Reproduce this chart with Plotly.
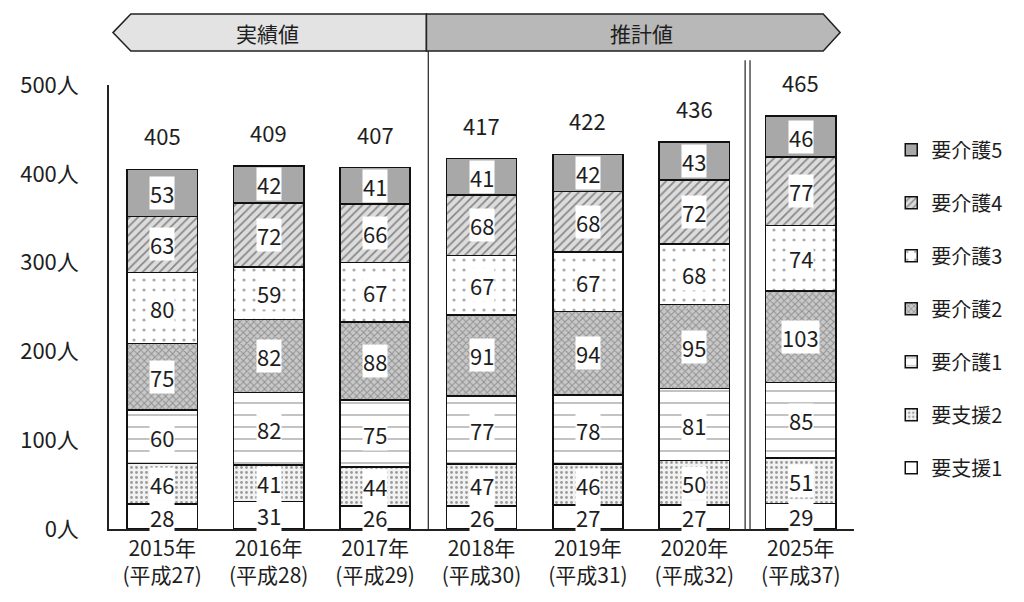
import plotly.graph_objects as go

years = ["2015年<br>(平成27)", "2016年<br>(平成28)", "2017年<br>(平成29)", "2018年<br>(平成30)",
         "2019年<br>(平成31)", "2020年<br>(平成32)", "2025年<br>(平成37)"]

shien1 = [28, 31, 26, 26, 27, 27, 29]
shien2 = [46, 41, 44, 47, 46, 50, 51]
kaigo1 = [60, 82, 75, 77, 78, 81, 85]
kaigo2 = [75, 82, 88, 91, 94, 95, 103]
kaigo3 = [80, 59, 67, 67, 67, 68, 74]
kaigo4 = [63, 72, 66, 68, 68, 72, 77]
kaigo5 = [53, 42, 41, 41, 42, 43, 46]
totals = [405, 409, 407, 417, 422, 436, 465]

names = ["要支援1", "要支援2", "要介護1", "要介護2", "要介護3", "要介護4", "要介護5"]
series = [shien1, shien2, kaigo1, kaigo2, kaigo3, kaigo4, kaigo5]

FONT = "Noto Sans CJK JP, Noto Sans, sans-serif"
INK = "#1e1e1e"

# pattern styles per level (bottom -> top)
styles = [
    dict(color="white", pattern=dict(shape="")),
    dict(color="#f2f2f2", pattern=dict(shape=".", fgcolor="#444", bgcolor="#f2f2f2", size=5, solidity=0.25)),
    dict(color="white", pattern=dict(shape="-", fgcolor="#333", bgcolor="white", size=12, solidity=0.1)),
    dict(color="#bdbdbd", pattern=dict(shape="x", fgcolor="#555", bgcolor="#c8c8c8", size=5, solidity=0.35)),
    dict(color="white", pattern=dict(shape=".", fgcolor="#555", bgcolor="white", size=10, solidity=0.08)),
    dict(color="#d9d9d9", pattern=dict(shape="/", fgcolor="#333", bgcolor="#dcdcdc", size=6, solidity=0.3)),
    dict(color="#a8a8a8", pattern=dict(shape="")),
]

fig = go.Figure()
for i, (nm, vals) in enumerate(zip(names, series)):
    st = styles[i]
    fig.add_trace(go.Bar(
        x=years, y=vals, name=nm, legendgroup=nm, legendrank=100 - i,
        width=0.66,
        marker=dict(color=st["color"], pattern=st["pattern"],
                    line=dict(color="#111", width=1.5)),
        hoverinfo="y+name",
    ))

# segment labels with white background
annotations = []
base = [0] * len(years)
for vals in series:
    for j, v in enumerate(vals):
        annotations.append(dict(
            x=years[j], y=base[j] + v / 2, xref="x", yref="y",
            text=str(v), showarrow=False, bgcolor="white", borderpad=0,
            font=dict(size=22, color=INK, family=FONT),
        ))
        base[j] += v

for j, t in enumerate(totals):
    annotations.append(dict(
        x=years[j], y=t, xref="x", yref="y", text=str(t), showarrow=False,
        yshift=34, font=dict(size=22, color=INK, family=FONT),
    ))

annotations += [
    dict(x=0.213, y=1.118, xref="paper", yref="paper", text="実績値", showarrow=False,
         xanchor="center", yanchor="middle", font=dict(size=21, color=INK, family=FONT)),
    dict(x=0.715, y=1.118, xref="paper", yref="paper", text="推計値", showarrow=False,
         xanchor="center", yanchor="middle", font=dict(size=21, color=INK, family=FONT)),
]

shapes = [
    # banner left part
    dict(type="path", xref="paper", yref="paper",
         path="M 0.0053 1.118 L 0.0293 1.16 L 0.4261 1.16 L 0.4261 1.0766 L 0.0293 1.0766 Z",
         fillcolor="#e3e3e3", line=dict(color="#222", width=1.5), layer="below"),
    # banner right part
    dict(type="path", xref="paper", yref="paper",
         path="M 0.4261 1.16 L 0.9587 1.16 L 0.9814 1.118 L 0.9587 1.0766 L 0.4261 1.0766 Z",
         fillcolor="#b8b8b8", line=dict(color="#222", width=1.5), layer="below"),
    # separators
    dict(type="line", xref="x", yref="paper", x0=2.5, x1=2.5, y0=0, y1=1.0766,
         line=dict(color="#222", width=1.2)),
    dict(type="line", xref="x", yref="paper", x0=5.477, x1=5.477, y0=0, y1=1.056,
         line=dict(color="#222", width=1.2)),
    dict(type="line", xref="x", yref="paper", x0=5.523, x1=5.523, y0=0, y1=1.056,
         line=dict(color="#222", width=1.2)),
]

# page body has an 8px margin, so the figure is drawn 8px smaller
fig.update_layout(
    barmode="stack",
    width=1016, height=594,
    margin=dict(l=95, r=170, t=77, b=73),
    paper_bgcolor="white", plot_bgcolor="white",
    font=dict(family=FONT, color=INK),
    showlegend=True,
    legend=dict(traceorder="grouped", tracegroupgap=24,
                x=1.05, xanchor="left", y=0.898, yanchor="top",
                font=dict(size=20, color=INK, family=FONT)),
    annotations=annotations,
    shapes=shapes,
)
fig.update_xaxes(showline=True, linecolor="#222", linewidth=1.5, ticks="",
                 tickfont=dict(size=21, color=INK), range=[-0.5, 6.5])
fig.update_yaxes(range=[0, 500], tickvals=[0, 100, 200, 300, 400, 500],
                 ticktext=["0人", "100人", "200人", "300人", "400人", "500人"],
                 showgrid=False, zeroline=False, showline=True, linecolor="#222", linewidth=1.5,
                 ticks="", ticklabelstandoff=24, tickfont=dict(size=22, color=INK))

fig.write_html("out.html")
